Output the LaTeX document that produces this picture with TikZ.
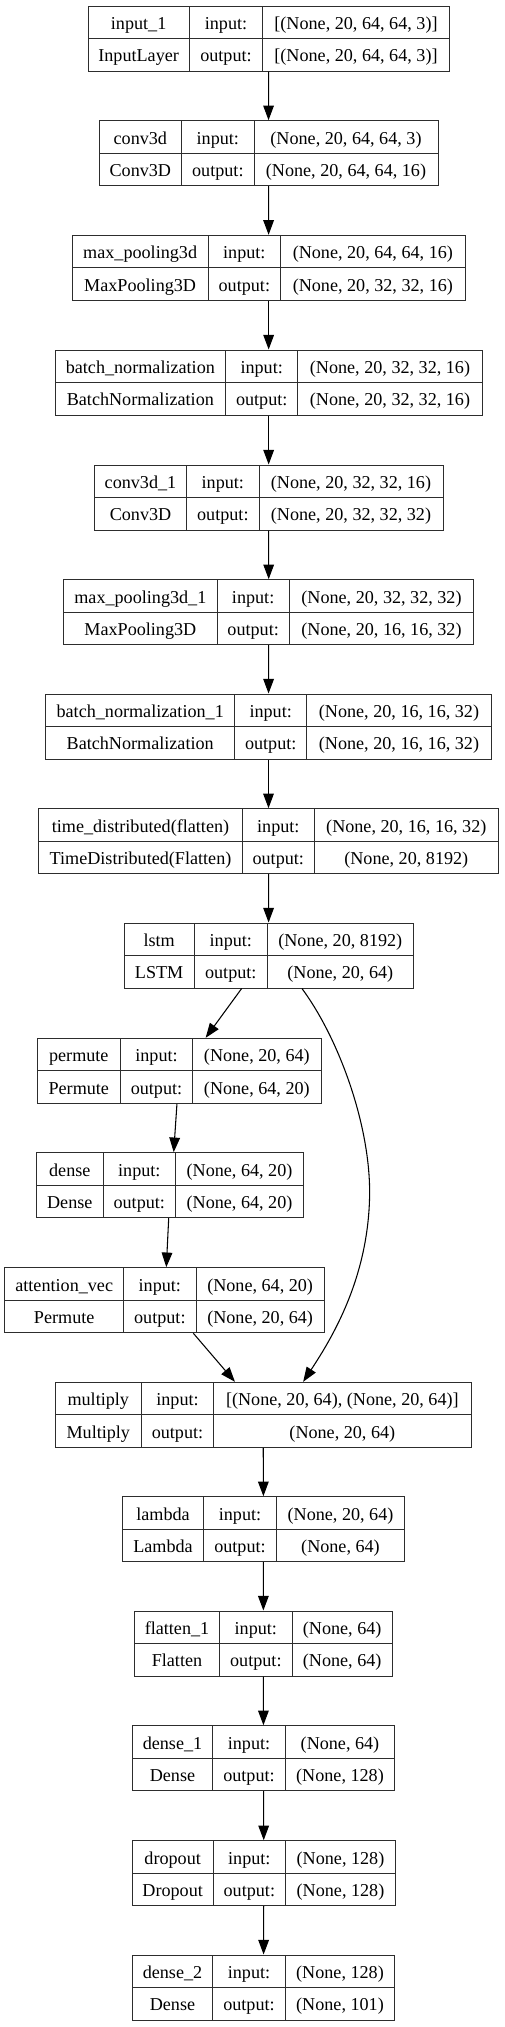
\documentclass[tikz,border=0pt]{standalone}
\usepackage{fontspec}
\setmainfont{Liberation Serif}
\usepackage{tikz}
\usetikzlibrary{arrows.meta, positioning, fit, calc}
\definecolor{cellline}{RGB}{45, 45, 45}

\tikzset{
  layerbox/.style={draw=cellline, line width=0.75pt, inner sep=0pt},
  divider/.style={cellline, line width=0.75pt},
  celltext/.style={anchor=base, inner sep=0pt, font=\fontsize{13.6}{16}\selectfont},
  flow/.style={-{Stealth[length=11pt, width=8pt, inset=0pt]}, line width=0.8pt, black},
}

% one keras layer: name | input:/output: | shapes (in|out)
\newcommand{\kerasbox}[9]{%
  \node[layerbox, fit={(#3,#2) (#6,#2+65)}] (#1) {};
  \draw[divider] (#4,#2) -- (#4,#2+65);
  \draw[divider] (#5,#2) -- (#5,#2+65);
  \draw[divider] (#3,#2+32.5) -- (#6,#2+32.5);
  \node[celltext] (#1-name) at ({(#3+#4)/2},#2+23.4) {#7};
  \node[celltext] (#1-cls) at ({(#3+#4)/2},#2+55.9) {#8};
  \node[celltext] (#1-inlab) at ({(#4+#5)/2},#2+23.4) {input:};
  \node[celltext] (#1-outlab) at ({(#4+#5)/2},#2+55.9) {output:};
  \kerasshapes{#1}{#2}{#5}{#6}#9\kerasstop
}
\def\kerasshapes#1#2#3#4#5|#6\kerasstop{%
  \node[celltext] (#1-in) at ({(#3+#4)/2},#2+23.4) {#5};
  \node[celltext] (#1-out) at ({(#3+#4)/2},#2+55.9) {#6};
}

\begin{document}
\begin{tikzpicture}[x=0.75pt, y=-0.75pt]

  \useasboundingbox (0,0) rectangle (504,2027);

  % feature extractor
  \kerasbox{input1}{6}{88}{189.3}{262.7}{449.3}{input\_1}{InputLayer}{[(None, 20, 64, 64, 3)]|[(None, 20, 64, 64, 3)]}
  \kerasbox{conv3d}{120.7}{99}{181.7}{254}{438}{conv3d}{Conv3D}{(None, 20, 64, 64, 3)|(None, 20, 64, 64, 16)}
  \kerasbox{maxpool}{235.3}{72.3}{208}{280.7}{465}{max\_pooling3d}{MaxPooling3D}{(None, 20, 64, 64, 16)|(None, 20, 32, 32, 16)}
  \kerasbox{batchnorm}{350}{55}{225.7}{297.7}{482.3}{batch\_normalization}{BatchNormalization}{(None, 20, 32, 32, 16)|(None, 20, 32, 32, 16)}
  \kerasbox{conv3dB}{465}{94.3}{186.7}{259}{443}{conv3d\_1}{Conv3D}{(None, 20, 32, 32, 16)|(None, 20, 32, 32, 32)}
  \kerasbox{maxpoolB}{579.7}{63.7}{217}{289.3}{473.7}{max\_pooling3d\_1}{MaxPooling3D}{(None, 20, 32, 32, 32)|(None, 20, 16, 16, 32)}
  \kerasbox{batchnormB}{694}{45.7}{234.7}{306.7}{491.3}{batch\_normalization\_1}{BatchNormalization}{(None, 20, 16, 16, 32)|(None, 20, 16, 16, 32)}
  \kerasbox{timedist}{808.7}{38.7}{242.3}{314.3}{498.3}{time\_distributed(flatten)}{TimeDistributed(Flatten)}{(None, 20, 16, 16, 32)|(None, 20, 8192)}

  % recurrent part and attention
  \kerasbox{lstm}{923}{124}{194.3}{267.3}{413.3}{lstm}{LSTM}{(None, 20, 8192)|(None, 20, 64)}
  \kerasbox{permute}{1038.3}{37.3}{120.3}{192.7}{321}{permute}{Permute}{(None, 20, 64)|(None, 64, 20)}
  \kerasbox{dense}{1152.7}{36.3}{103.3}{175.3}{303.7}{dense}{Dense}{(None, 64, 20)|(None, 64, 20)}
  \kerasbox{attvec}{1267.7}{4.7}{123.7}{196}{324.3}{attention\_vec}{Permute}{(None, 64, 20)|(None, 20, 64)}
  \kerasbox{multiply}{1382.3}{55.3}{141.3}{213.7}{471}{multiply}{Multiply}{[(None, 20, 64), (None, 20, 64)]|(None, 20, 64)}

  % classifier head
  \kerasbox{lambda}{1496.7}{122.3}{203.7}{276.3}{404.7}{lambda}{Lambda}{(None, 20, 64)|(None, 64)}
  \kerasbox{flattenB}{1611}{134.3}{219.7}{292}{392.3}{flatten\_1}{Flatten}{(None, 64)|(None, 64)}
  \kerasbox{denseB}{1725.7}{132.3}{212.7}{285.3}{394.7}{dense\_1}{Dense}{(None, 64)|(None, 128)}
  \kerasbox{dropout}{1840.7}{132.3}{213}{285.7}{395.3}{dropout}{Dropout}{(None, 128)|(None, 128)}
  \kerasbox{denseC}{1955}{132.3}{212.7}{285.3}{394.7}{dense\_2}{Dense}{(None, 128)|(None, 101)}

  % straight flow
  \draw[flow] (input1) -- (conv3d);
  \draw[flow] (conv3d) -- (maxpool);
  \draw[flow] (maxpool) -- (batchnorm);
  \draw[flow] (batchnorm) -- (conv3dB);
  \draw[flow] (conv3dB) -- (maxpoolB);
  \draw[flow] (maxpoolB) -- (batchnormB);
  \draw[flow] (batchnormB) -- (timedist);
  \draw[flow] (timedist) -- (lstm);

  % attention branch
  \draw[flow] ($(lstm.south)+(-27,0)$) -- ($(permute.north)+(26.5,0)$);
  \draw[flow] ($(permute.south)+(-2.2,0)$) -- ($(dense.north)+(3.7,0)$);
  \draw[flow] ($(dense.south)+(-1.3,0)$) -- ($(attvec.north)+(1.8,0)$);
  \draw[flow] ($(attvec.south)+(28.8,0)$) -- ($(multiply.north)+(-28.2,0)$);

  % skip connection lstm -> multiply
  \coordinate (skipbend) at (369.5,1200);
  \draw[flow] ($(lstm.south)+(33.3,0)$) .. controls (340,1040) and (372,1130) .. (skipbend)
    .. controls (367,1280) and (332,1338) .. ($(multiply.north)+(40,0)$);

  \draw[flow] (multiply) -- (lambda);
  \draw[flow] (lambda) -- (flattenB);
  \draw[flow] (flattenB) -- (denseB);
  \draw[flow] (denseB) -- (dropout);
  \draw[flow] (dropout) -- (denseC);

\end{tikzpicture}
\end{document}
